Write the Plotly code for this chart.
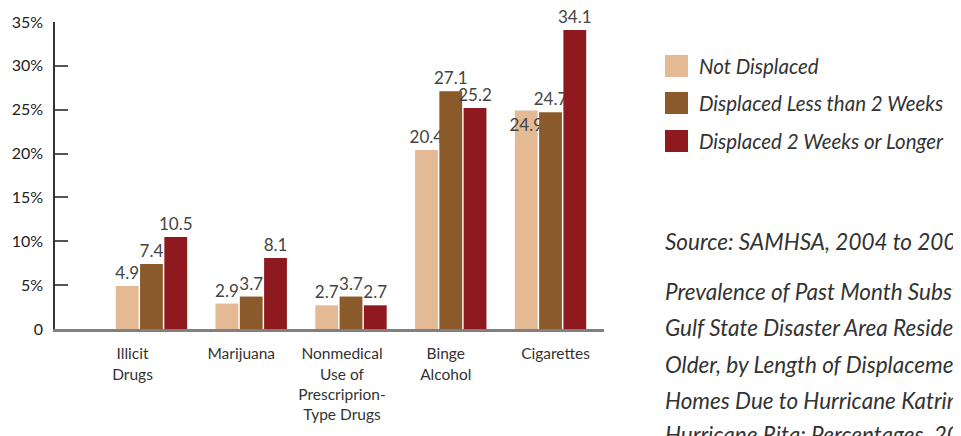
import plotly.graph_objects as go

categories = ["Illicit<br>Drugs", "Marijuana", "Nonmedical<br>Use of<br>Prescriprion-<br>Type Drugs",
              "Binge<br>Alcohol", "Cigarettes"]
not_displaced = [4.9, 2.9, 2.7, 20.4, 24.9]
displaced_lt2 = [7.4, 3.7, 3.7, 27.1, 24.7]
displaced_ge2 = [10.5, 8.1, 2.7, 25.2, 34.1]
series_names = ["Not Displaced", "Displaced Less than 2 Weeks", "Displaced 2 Weeks or Longer"]
series_colors = ["#E3BA93", "#8A5A2A", "#8E1A1F"]
y_ticks = [0, 5, 10, 15, 20, 25, 30, 35]
y_tick_labels = ["0", "5%", "10%", "15%", "20%", "25%", "30%", "35%"]
source_text = "Source: SAMHSA, 2004 to 2006 NSDUHs"
title_lines = ["Prevalence of Past Month Substance Use among",
               "Gulf State Disaster Area Residents Aged 12 or",
               "Older, by Length of Displacement from Their",
               "Homes Due to Hurricane Katrina or",
               "Hurricane Rita: Percentages, 2004 to 2006"]

# layout: small horizontal offsets of category labels relative to bar groups (as in the original)
label_offsets = [-0.19, -0.1, -0.09, -0.05, 0.05]

FONT = "Lato"
OFF = 8  # page body margin
W, H = 961 - OFF, 436 - OFF
ML, MT = 55 - OFF, 22 - OFF
PLOT_R, PLOT_B = 604 - OFF, 329 - OFF
MR, MB = W - PLOT_R, H - PLOT_B
PW = W - ML - MR
PH = H - MT - MB

def px_to_paper_x(px):
    return (px - OFF - ML) / PW

def px_to_paper_y(py):
    return (PLOT_B - (py - OFF)) / PH

fig = go.Figure()
x_idx = list(range(len(categories)))
for k, (name, vals, col) in enumerate(zip(series_names, [not_displaced, displaced_lt2, displaced_ge2], series_colors)):
    positions = ["outside"] * len(vals)
    if k == 0:
        positions[-1] = "inside"
    fig.add_trace(go.Bar(
        x=x_idx, y=vals, name=name, marker=dict(color=col, line=dict(width=0)),
        text=[f"{v:g}" for v in vals], textposition=positions, textangle=0,
        insidetextanchor="end", constraintext="none",
        textfont=dict(family=FONT, size=17, color="#444444"),
        insidetextfont=dict(family=FONT, size=17, color="#444444"),
        cliponaxis=False, showlegend=False,
    ))

fig.update_layout(
    width=W, height=H, margin=dict(l=ML, r=MR, t=MT, b=MB, autoexpand=False),
    paper_bgcolor="white", plot_bgcolor="white",
    barmode="group", bargap=0.27, bargroupgap=0.06,
    font=dict(family=FONT, color="#333333"),
    showlegend=False,
    uniformtext=dict(minsize=17, mode="show"),
)
fig.update_xaxes(
    range=[-0.967, 4.536], tickmode="array",
    tickvals=[i + o for i, o in zip(x_idx, label_offsets)], ticktext=categories,
    showline=True, linecolor="#808080", linewidth=2.5, showgrid=False, zeroline=False,
    ticks="", tickfont=dict(family=FONT, size=15.5, color="#333333"), ticklabelstandoff=9,
    automargin=False,
)
fig.update_yaxes(
    range=[0, 35], tickmode="array", tickvals=y_ticks, ticktext=y_tick_labels,
    showline=True, linecolor="#333333", linewidth=1.5, showgrid=False, zeroline=False,
    ticks="inside", ticklen=13, tickwidth=1.5, tickcolor="#555555",
    tickfont=dict(family=FONT, size=16, color="#222222"), ticklabelstandoff=7,
    automargin=False,
)

# legend drawn manually
leg_tops = [55, 92, 130]
for i, (name, col) in enumerate(zip(series_names, series_colors)):
    t = leg_tops[i]
    fig.add_shape(type="rect", xref="paper", yref="paper",
                  x0=px_to_paper_x(665), x1=px_to_paper_x(688),
                  y0=px_to_paper_y(t + 22), y1=px_to_paper_y(t),
                  fillcolor=col, line=dict(width=0))
    fig.add_annotation(xref="paper", yref="paper", x=px_to_paper_x(697), y=px_to_paper_y(t + 11),
                       text=f"<i>{name}</i>", showarrow=False, xanchor="left", yanchor="middle",
                       font=dict(family=FONT, size=20.5, color="#333333"))

fig.add_annotation(xref="paper", yref="paper", x=px_to_paper_x(663), y=px_to_paper_y(241),
                   text=f"<i>{source_text}</i>", showarrow=False, xanchor="left", yanchor="middle",
                   font=dict(family=FONT, size=22.5, color="#333333"))
line_ys = [291, 327, 364, 400, 434]
for ly, line in zip(line_ys, title_lines):
    fig.add_annotation(xref="paper", yref="paper", x=px_to_paper_x(663), y=px_to_paper_y(ly),
                       text=f"<i>{line}</i>", showarrow=False, xanchor="left", yanchor="middle",
                       font=dict(family=FONT, size=22.5, color="#333333"))

fig.write_html("out.html")
